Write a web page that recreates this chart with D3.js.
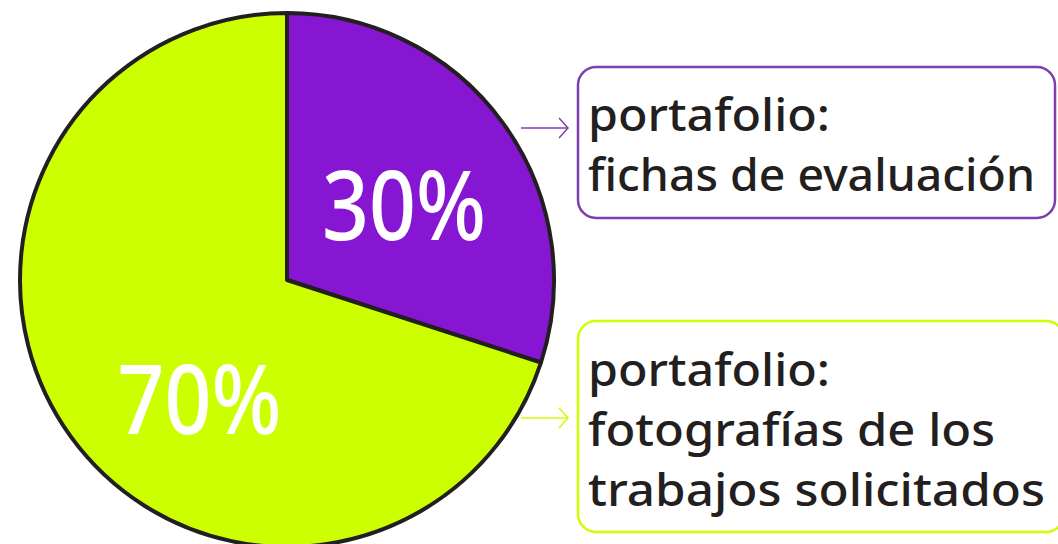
<html>
<head>
  <meta charset="utf-8" />
  <script src="https://cdnjs.cloudflare.com/ajax/libs/d3/7.8.5/d3.min.js"></script>
  <style>
    body { margin: 0; background: #fff; }
    text { font-family: "Noto Sans", sans-serif; }
  </style>
</head>
<body>
  <svg></svg>
  <script>
    // data
    var categories = ["fichas", "fotos"]
    var values = [30, 70]
    var pctLabels = ["30%", "70%"]
    var boxLines = [
      ["portafolio:", "fichas de evaluación"],
      ["portafolio:", "fotografías de los", "trabajos solicitados"]
    ]

    var W = 1058, H = 544
    var svg = d3.select("svg").attr("width", W).attr("height", H)

    var color = d3.scaleOrdinal().domain(categories).range(["#8616d2", "#ccff00"])
    var border = d3.scaleOrdinal().domain(categories).range(["#7e3fae", "#ccff00"])

    var cx = 287, cy = 280, r = 267
    var pie = d3.pie().sort(null).value(d => d)
    var arc = d3.arc().innerRadius(0).outerRadius(r)
    var arcs = pie(values)

    var g = svg.append("g").attr("transform", "translate(" + cx + "," + cy + ")")
    g.selectAll("path")
      .data(arcs)
      .enter()
      .append("path")
        .attr("d", arc)
        .style("fill", (d, i) => color(categories[i]))
        .style("stroke", "#231f20")
        .style("stroke-width", 4)
        .style("stroke-linejoin", "round")

    // big percentage labels (angle tweak + radius per slice)
    var labelPos = [{a: 58, rr: 138}, {a: 216, rr: 149}]
    g.selectAll("text.pct")
      .data(arcs)
      .enter()
      .append("text")
        .attr("class", "pct")
        .attr("x", (d, i) => labelPos[i].rr * Math.sin(labelPos[i].a * Math.PI / 180))
        .attr("y", (d, i) => -labelPos[i].rr * Math.cos(labelPos[i].a * Math.PI / 180))
        .attr("dy", "0.35em")
        .attr("text-anchor", "middle")
        .style("fill", "#fff")
        .style("font-size", "96px")
        .style("font-weight", 500)
        .attr("textLength", 164)
        .attr("lengthAdjust", "spacingAndGlyphs")
        .text((d, i) => pctLabels[i])

    // callout boxes
    var boxes = [
      {x: 578, y: 67, w: 477, h: 151, arrowY: 128, base: 131, widths: [242, 447]},
      {x: 578, y: 321, w: 486, h: 211, arrowY: 418, base: 386, widths: [242, 407, 457]}
    ]
    boxes.forEach(function (b, i) {
      var c = border(categories[i])
      svg.append("rect")
        .attr("x", b.x).attr("y", b.y)
        .attr("width", b.w).attr("height", b.h)
        .attr("rx", 18)
        .style("fill", "#fff")
        .style("stroke", c)
        .style("stroke-width", 2.5)
      // arrow
      svg.append("line")
        .attr("x1", 521).attr("x2", 568)
        .attr("y1", b.arrowY).attr("y2", b.arrowY)
        .style("stroke", c).style("stroke-width", 1.5)
      svg.append("path")
        .attr("d", "M559," + (b.arrowY - 10) + "L568," + b.arrowY + "L559," + (b.arrowY + 10))
        .style("fill", "none").style("stroke", c).style("stroke-width", 1.5)
      svg.selectAll(null)
        .data(boxLines[i])
        .enter()
        .append("text")
          .attr("x", b.x + 10)
          .attr("y", (d, j) => b.base + j * 60)
          .style("font-size", "46px")
          .style("font-weight", 500)
          .style("fill", "#231f20")
          .attr("textLength", (d, j) => b.widths[j])
          .attr("lengthAdjust", "spacingAndGlyphs")
          .text(d => d)
    })
  </script>
</body>
</html>
